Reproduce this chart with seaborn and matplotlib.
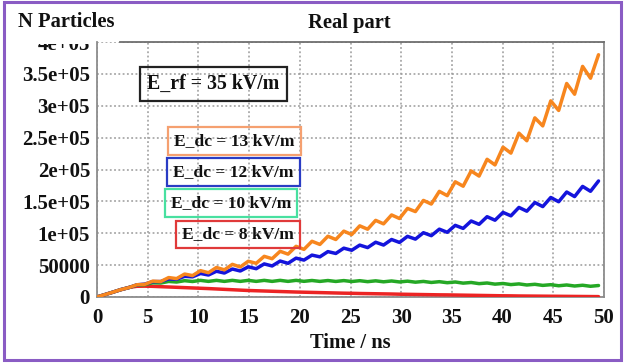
import matplotlib
matplotlib.use("Agg")
import matplotlib.pyplot as plt
from matplotlib.patches import Rectangle
from matplotlib.transforms import Bbox, TransformedBbox
import pandas as pd
import seaborn as sns

# Sampling times (ns): successive extrema of the RF-driven oscillation
time_ns = [0.00, 0.79, 1.57, 2.36, 3.14, 3.93, 4.71, 5.50, 6.28, 7.07,
           7.85, 8.64, 9.42, 10.21, 10.99, 11.78, 12.56, 13.35, 14.13, 14.92,
           15.70, 16.49, 17.27, 18.06, 18.84, 19.63, 20.41, 21.20, 21.98, 22.77,
           23.55, 24.34, 25.12, 25.91, 26.69, 27.48, 28.26, 29.05, 29.83, 30.62,
           31.40, 32.19, 32.97, 33.76, 34.54, 35.33, 36.11, 36.90, 37.68, 38.47,
           39.25, 40.04, 40.82, 41.61, 42.39, 43.18, 43.96, 44.75, 45.53, 46.32,
           47.10, 47.89, 48.67, 49.46]

# Number of particles for each DC field
n_13 = [0, 3800, 7600, 11700, 14700, 19200, 19800, 24900, 24200, 30500,
        28850, 36000, 33600, 41300, 38100, 46300, 42600, 51200, 47100, 56100,
        52850, 63800, 60050, 71700, 67250, 79500, 74700, 87400, 82450, 95300,
        90200, 103300, 97950, 111600, 106350, 120200, 114750, 128700, 123150, 138900,
        134000, 151500, 145800, 165700, 159000, 180700, 173800, 197700, 189700, 216000,
        207200, 235000, 225700, 257000, 245100, 281000, 268400, 307700, 292600, 334900,
        318100, 361700, 343200, 380000]
n_12 = [0, 3800, 7600, 11700, 14700, 19100, 20200, 24100, 24200, 28300,
        27900, 32400, 31650, 36900, 34500, 40400, 37600, 43900, 40800, 47300,
        44400, 51900, 48700, 56400, 52850, 60950, 57900, 65700, 63000, 71200,
        68300, 76600, 73300, 81400, 77500, 85900, 81500, 90200, 85600, 95150,
        90800, 100850, 96200, 106400, 101500, 112400, 107600, 119200, 114000, 125950,
        120450, 132700, 127300, 140500, 134600, 148200, 141800, 156100, 149400, 164700,
        157500, 173500, 165800, 182000]
n_10 = [0, 3800, 7600, 11600, 14800, 18600, 19300, 22300, 21900, 24400,
        23500, 25600, 24300, 26100, 24500, 26100, 24500, 26100, 24500, 26100,
        24500, 26100, 24500, 26100, 24500, 26100, 24580, 25900, 24470, 25840,
        24400, 25740, 24280, 25570, 24060, 25350, 23840, 25130, 23620, 24840,
        23240, 24430, 22820, 24020, 22420, 23540, 21750, 22750, 20960, 21970,
        20180, 21190, 19470, 20560, 18840, 19930, 18220, 19300, 17660, 18850,
        17240, 18430, 16820, 18000]
n_8 = [0, 3800, 7600, 11400, 15000, 16800, 17000, 16700, 16200, 15700,
       15200, 14700, 14200, 13700, 13200, 12600, 12000, 11400, 10800, 10200,
       9800, 9400, 9000, 8600, 8200, 7800, 7500, 7200, 6900, 6600,
       6300, 6000, 5800, 5500, 5300, 5100, 4900, 4700, 4400, 4200,
       4000, 3800, 3600, 3400, 3300, 3100, 2900, 2700, 2500, 2300,
       2100, 1900, 1800, 1600, 1500, 1400, 1300, 1200, 1100, 1000,
       900, 800, 700, 600]

series_names = ["E_dc = 13 kV/m", "E_dc = 12 kV/m", "E_dc = 10 kV/m", "E_dc = 8 kV/m"]
series_values = [n_13, n_12, n_10, n_8]
line_colors = ["#f7861e", "#1414dc", "#25a825", "#ec2424"]
box_colors = ["#f5a070", "#2a3cc4", "#48e0a0", "#e03a3a"]

x_ticks = [0, 5, 10, 15, 20, 25, 30, 35, 40, 45, 50]
y_ticks = [0, 50000, 100000, 150000, 200000, 250000, 300000, 350000, 400000]
y_tick_labels = ["0", "50000", "1e+05", "1.5e+05", "2e+05", "2.5e+05", "3e+05", "3.5e+05", "4e+05"]

df = pd.concat(
    [pd.DataFrame({"t": time_ns, "n": vals, "case": name})
     for name, vals in zip(series_names, series_values)],
    ignore_index=True,
)

sns.set_style("white")
plt.rcParams["font.family"] = ["Liberation Serif", "DejaVu Serif"]
plt.rcParams["font.weight"] = "bold"

W, H = 626, 364
fig = plt.figure(figsize=(W / 100, H / 100), dpi=100)
fig.patch.set_facecolor("white")
ax = fig.add_axes([97 / W, 1 - 297 / H, (604 - 97) / W, (297 - 42) / H])

sns.lineplot(data=df, x="t", y="n", hue="case", hue_order=series_names[::-1],
             palette=dict(zip(series_names, line_colors)), estimator=None,
             sort=False, lw=2.5, legend=False, ax=ax, zorder=3)
for line in ax.lines:
    line.set_solid_joinstyle("round")

ax.set_xlim(0, 50)
ax.set_ylim(0, 400000)
ax.set_xticks(x_ticks)
ax.set_xticklabels([str(v) for v in x_ticks])
ax.set_yticks(y_ticks)
ax.set_yticklabels(y_tick_labels)
ax.set_xlabel("")
ax.set_ylabel("")

ax.grid(True, color="#9a9a9a", ls=(0, (1.2, 1.6)), lw=1.1)
for side in ["left", "bottom", "right", "top"]:
    ax.spines[side].set_color("#8c8c8c")
    ax.spines[side].set_linewidth(1.3)
ax.spines["top"].set_color("#6e6e6e")
ax.spines["top"].set_bounds(2.3, 50)

ax.tick_params(axis="both", direction="out", length=3, width=1.1, color="#8c8c8c",
               labelsize=15, labelcolor="#111111")
ax.tick_params(axis="y", pad=2)
ax.tick_params(axis="x", pad=5)

# The topmost y label is partly hidden behind the header strip
top_label = ax.yaxis.get_major_ticks()[-1].label1
top_label.set_clip_on(True)
top_label.set_clip_box(TransformedBbox(Bbox([[0, 0], [1, 1 - 44 / H]]), fig.transFigure))

# Headers and axis title
fig.text(18 / W, 1 - 22 / H, "N Particles", ha="left", va="center",
         fontsize=14.8, fontweight="bold", color="#111111")
fig.text(349 / W, 1 - 23 / H, "Real part", ha="center", va="center",
         fontsize=14.8, fontweight="bold", color="#111111")
fig.text(350 / W, 1 - 343 / H, "Time / ns", ha="center", va="center",
         fontsize=14.8, fontweight="bold", color="#111111")

# Field labels
ax.text(0.2294, 0.8345, "E_rf = 35 kV/m", transform=ax.transAxes, ha="center",
        va="center", fontsize=14.3, fontweight="bold", color="#111111", zorder=5,
        bbox=dict(boxstyle="square,pad=0.36", fc="none", ec="#222222", lw=1.6))
label_pos = [(0.2712, 0.6125), (0.2692, 0.4914), (0.2649, 0.3694), (0.2787, 0.2451)]
for name, (px, py), ec in zip(series_names, label_pos, box_colors):
    ax.text(px, py, name, transform=ax.transAxes, ha="center", va="center",
            fontsize=12.6, fontweight="bold", color="#111111", zorder=5,
            bbox=dict(boxstyle="square,pad=0.34", fc="none", ec=ec, lw=1.6))

# Purple frame around the whole figure
fig.add_artist(Rectangle((4 / W, 1 - 360 / H), (621 - 4) / W, (360 - 2) / H,
                         transform=fig.transFigure, fill=False,
                         ec="#8a5cc4", lw=2.2))

fig.savefig("out.png", dpi=100)
